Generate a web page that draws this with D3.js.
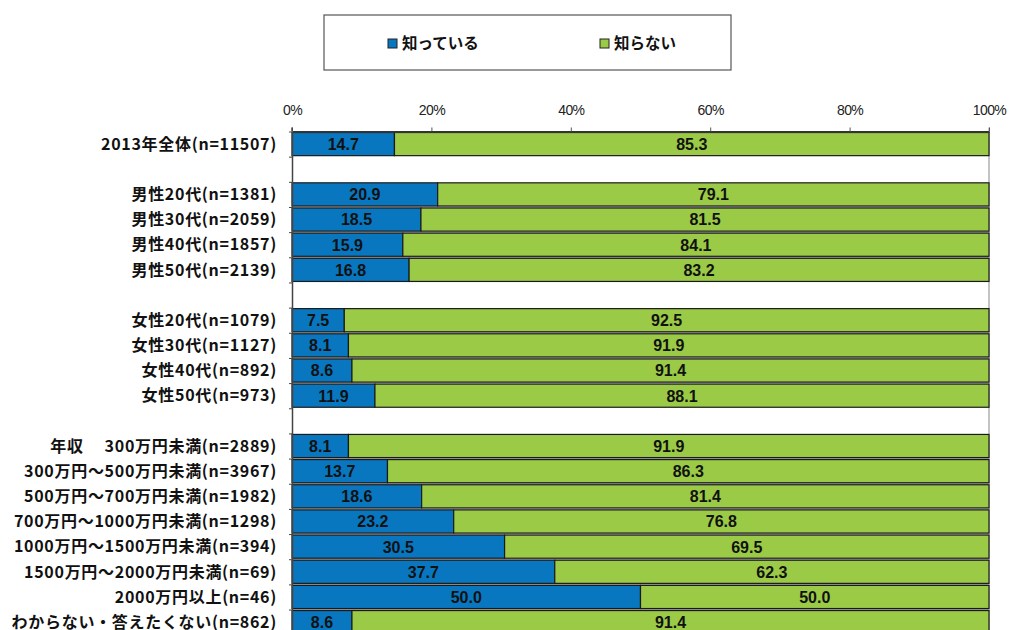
<!DOCTYPE html>
<html><head><meta charset="utf-8">
<script src="https://cdn.jsdelivr.net/npm/d3@7"></script>
<style>
html,body{margin:0;padding:0;background:#fff;}
svg{display:block;}
</style></head>
<body>
<svg id="chart" width="1010" height="630"></svg>
<script>
const categories = [
  "2013年全体(n=11507)", "",
  "男性20代(n=1381)", "男性30代(n=2059)", "男性40代(n=1857)", "男性50代(n=2139)", "",
  "女性20代(n=1079)", "女性30代(n=1127)", "女性40代(n=892)", "女性50代(n=973)", "",
  "年収　 300万円未満(n=2889)", "300万円～500万円未満(n=3967)", "500万円～700万円未満(n=1982)",
  "700万円～1000万円未満(n=1298)", "1000万円～1500万円未満(n=394)", "1500万円～2000万円未満(n=69)",
  "2000万円以上(n=46)", "わからない・答えたくない(n=862)"
];
const knowValues = [14.7, null, 20.9, 18.5, 15.9, 16.8, null, 7.5, 8.1, 8.6, 11.9, null,
  8.1, 13.7, 18.6, 23.2, 30.5, 37.7, 50.0, 8.6];
const dontKnowValues = [85.3, null, 79.1, 81.5, 84.1, 83.2, null, 92.5, 91.9, 91.4, 88.1, null,
  91.9, 86.3, 81.4, 76.8, 69.5, 62.3, 50.0, 91.4];
const seriesNames = ["知っている", "知らない"];
const seriesColors = ["#0877C0", "#9BCA47"];
const tickValues = [0, 20, 40, 60, 80, 100];

const svg = d3.select("#chart");
const x = d3.scaleLinear().domain([0, 100]).range([292, 989]);
const y = d3.scaleBand().domain(d3.range(categories.length)).range([131.5, 634.7])
  .paddingInner(0.08).paddingOuter(0.04);
const yb = d3.scaleLinear().domain([0, categories.length]).range([131.5, 634.7]);

const rows = categories.map((c, i) => ({ i, label: c, a: knowValues[i], b: dontKnowValues[i] }));
const barRows = rows.filter(r => r.a != null);

// separators between adjacent bars
const g = svg.append("g");
g.selectAll("line.sep").data(barRows.filter(r => r.i + 1 < rows.length && rows[r.i + 1].a != null))
  .join("line").attr("class", "sep")
  .attr("x1", x(0)).attr("x2", x(100))
  .attr("y1", r => y(r.i) + y.bandwidth() + (y.step() - y.bandwidth()) / 2)
  .attr("y2", r => y(r.i) + y.bandwidth() + (y.step() - y.bandwidth()) / 2)
  .attr("stroke", "#a8a8a8").attr("stroke-width", 1.5);

// right border line
svg.append("line").attr("x1", x(100)).attr("x2", x(100))
  .attr("y1", yb(0) - 4).attr("y2", 630).attr("stroke", "#b0b0b0").attr("stroke-width", 1.5);

// bars
const bars = svg.append("g");
barRows.forEach(r => {
  const segs = [
    { x0: 0, x1: r.a, v: r.a, c: seriesColors[0] },
    { x0: r.a, x1: r.a + r.b, v: r.b, c: seriesColors[1] }
  ];
  const gg = bars.append("g");
  gg.selectAll("rect").data(segs).join("rect")
    .attr("x", d => x(d.x0)).attr("width", d => x(d.x1) - x(d.x0))
    .attr("y", y(r.i)).attr("height", y.bandwidth())
    .attr("fill", d => d.c).attr("stroke", "#1a1a1a").attr("stroke-width", 1.2);
  gg.selectAll("text").data(segs).join("text")
    .attr("x", d => (x(d.x0) + x(d.x1)) / 2)
    .attr("y", y(r.i) + y.bandwidth() / 2)
    .attr("dy", "0.37em")
    .attr("text-anchor", "middle")
    .attr("font-family", "'Liberation Sans', Arial, sans-serif")
    .attr("font-weight", "bold").attr("font-size", 16)
    .attr("fill", "#111")
    .text(d => d.v.toFixed(1));
});

// top axis
const xAxis = d3.axisTop(x).tickValues(tickValues).tickFormat(d => d + "%")
  .tickSize(4).tickSizeOuter(0).tickPadding(12.5);
const ax = svg.append("g").attr("transform", `translate(0,${yb(0)})`).call(xAxis);
ax.select(".domain").attr("stroke", "#333").attr("stroke-width", 2);
ax.selectAll(".tick line").attr("stroke", "#555");
ax.selectAll(".tick text").attr("font-family", "'Liberation Sans', Arial, sans-serif")
  .attr("font-size", 14).attr("fill", "#222").attr("letter-spacing", "-0.6px");

// left axis
const yAxis = d3.axisLeft(yb).tickValues(d3.range(categories.length + 1)).tickFormat("")
  .tickSize(3).tickSizeOuter(0);
const ay = svg.append("g").attr("transform", `translate(${x(0)},0)`).call(yAxis);
ay.select(".domain").attr("stroke", "#444").attr("stroke-width", 1.5);
ay.selectAll(".tick line").attr("stroke", "#444");
svg.append("line").attr("x1", x(0)).attr("x2", x(0)).attr("y1", yb(0) - 4).attr("y2", yb(0))
  .attr("stroke", "#444").attr("stroke-width", 1.5);

// category labels
svg.append("g").selectAll("text").data(rows.filter(r => r.label)).join("text")
  .attr("x", 277).attr("y", r => y(r.i) + y.bandwidth() / 2).attr("dy", "0.36em")
  .attr("text-anchor", "end")
  .attr("font-family", "'Noto Sans CJK JP', sans-serif")
  .attr("font-weight", "bold").attr("font-size", 16).attr("fill", "#111")
  .attr("letter-spacing", "0.7px")
  .text(r => r.label);

// legend
const leg = svg.append("g");
leg.append("rect").attr("x", 324).attr("y", 15).attr("width", 407).attr("height", 55)
  .attr("fill", "#fff").attr("stroke", "#555").attr("stroke-width", 1.2);
const legX = [388, 600];
seriesNames.forEach((n, i) => {
  leg.append("rect").attr("x", legX[i]).attr("y", 39).attr("width", 9).attr("height", 9)
    .attr("fill", seriesColors[i]).attr("stroke", "#222").attr("stroke-width", 1);
  leg.append("text").attr("x", legX[i] + 14).attr("y", 43.5).attr("dy", "0.36em")
    .attr("font-family", "'Noto Sans CJK JP', sans-serif").attr("font-weight", "bold")
    .attr("font-size", 15.5).attr("fill", "#111").text(n);
});
</script>
</body></html>
